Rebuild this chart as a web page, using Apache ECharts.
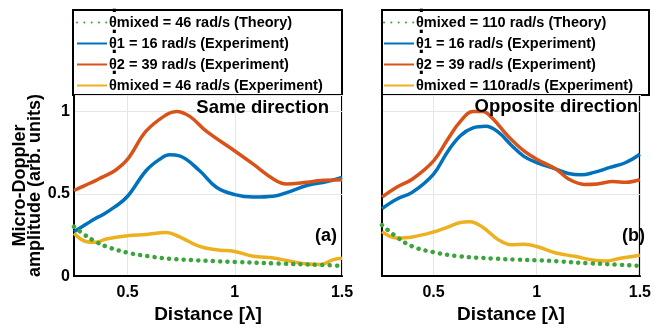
<!DOCTYPE html>
<html><head><meta charset="utf-8">
<script src="https://cdn.jsdelivr.net/npm/echarts@6/dist/echarts.min.js"></script>
<style>html,body{margin:0;padding:0;background:#fff}#c{width:654px;height:329px}</style>
</head><body><div id="c"></div>
<script>
// Panel (a): Same direction
const aTheory = [[0.25,0.30],[0.3,0.25],[0.35,0.21],[0.4,0.18],[0.5,0.142],[0.6,0.12],[0.7,0.105],[0.8,0.097],[0.9,0.091],[1.0,0.086],[1.2,0.076],[1.4,0.068],[1.5,0.062]];
const aTheta1 = [[0.25,0.27],[0.3,0.31],[0.35,0.35],[0.38,0.37],[0.44,0.42],[0.5,0.485],[0.586,0.64],[0.65,0.71],[0.695,0.737],[0.742,0.73],[0.836,0.64],[0.914,0.54],[1.0,0.495],[1.086,0.48],[1.18,0.485],[1.26,0.515],[1.336,0.55],[1.43,0.574],[1.5,0.60]];
const aTheta2 = [[0.25,0.52],[0.3,0.55],[0.35,0.58],[0.38,0.60],[0.44,0.64],[0.5,0.71],[0.586,0.88],[0.68,0.98],[0.727,1.0],[0.79,0.97],[0.867,0.88],[1.0,0.76],[1.086,0.68],[1.18,0.59],[1.24,0.56],[1.336,0.57],[1.4,0.58],[1.5,0.585]];
const aMixed = [[0.25,0.26],[0.305,0.21],[0.35,0.205],[0.4,0.225],[0.5,0.245],[0.586,0.253],[0.68,0.265],[0.74,0.24],[0.836,0.18],[0.914,0.16],[1.0,0.15],[1.086,0.12],[1.18,0.11],[1.26,0.09],[1.336,0.073],[1.4,0.07],[1.46,0.10],[1.5,0.108]];
// Panel (b): Opposite direction
const bTheory = [[0.25,0.31],[0.321,0.238],[0.398,0.18],[0.5,0.145],[0.63,0.12],[0.784,0.107],[0.9,0.1],[1.0,0.096],[1.1,0.09],[1.247,0.078],[1.35,0.072],[1.5,0.062]];
const bTheta1 = [[0.25,0.41],[0.321,0.467],[0.398,0.51],[0.5,0.62],[0.568,0.756],[0.63,0.853],[0.691,0.90],[0.753,0.91],[0.815,0.873],[0.877,0.795],[0.938,0.727],[1.0,0.69],[1.093,0.65],[1.154,0.623],[1.216,0.615],[1.278,0.63],[1.355,0.66],[1.432,0.69],[1.5,0.74]];
const bTheta2 = [[0.25,0.48],[0.321,0.54],[0.398,0.59],[0.5,0.70],[0.568,0.83],[0.63,0.94],[0.691,1.0],[0.738,1.0],[0.784,0.96],[0.861,0.85],[0.938,0.76],[1.0,0.71],[1.093,0.65],[1.154,0.59],[1.231,0.557],[1.293,0.56],[1.37,0.574],[1.432,0.57],[1.5,0.585]];
const bMixed = [[0.25,0.27],[0.321,0.232],[0.398,0.238],[0.5,0.268],[0.568,0.297],[0.63,0.326],[0.676,0.33],[0.738,0.297],[0.815,0.22],[0.877,0.19],[0.938,0.193],[1.0,0.18],[1.093,0.14],[1.185,0.12],[1.278,0.096],[1.34,0.092],[1.40,0.107],[1.5,0.127]];

const xTicks = [0.5, 1, 1.5];
const namesA = ['θmixed = 46 rad/s (Theory)','θ1 = 16 rad/s (Experiment)','θ2 = 39 rad/s (Experiment)','θmixed = 46 rad/s (Experiment)'];
const namesB = ['θmixed = 110 rad/s (Theory)','θ1 = 16 rad/s (Experiment) ','θ2 = 39 rad/s (Experiment) ','θmixed = 110rad/s (Experiment)'];
const titles = ['Same direction','Opposite direction'];
const tags = ['(a)','(b)'];

const FONT = 'Liberation Sans, Arial, sans-serif';
const colors = {theory:'#3BA53B', t1:'#0072BD', t2:'#D95319', mixed:'#EDB120'};
const grids = [{left:74,top:95,width:268,height:187},{left:382,top:95,width:266,height:187}];

function xAxis(i){
  return {gridIndex:i,type:'value',min:0.25,max:1.5,
    axisLine:{show:true,lineStyle:{color:'#000',width:2}},
    axisTick:{show:false,customValues:xTicks},
    axisLabel:{customValues:xTicks,color:'#000',fontSize:16,fontWeight:'bold',fontFamily:FONT,margin:8},
    splitLine:{show:true,lineStyle:{color:'#e6e6e6',width:1}},
    name:'Distance [λ]',nameLocation:'middle',nameGap:27,
    nameTextStyle:{color:'#000',fontSize:19,fontWeight:'bold',fontFamily:FONT}};
}
function yAxis(i){
  const o = {gridIndex:i,type:'value',min:0,max:1.1,interval:0.5,
    axisLine:{show:true,lineStyle:{color:'#000',width:2}},
    axisTick:{show:false},
    axisLabel:{show:i===0,showMaxLabel:false,color:'#000',fontSize:16,fontWeight:'bold',fontFamily:FONT,margin:4,
      formatter:v=>String(v)},
    splitLine:{show:true,lineStyle:{color:'#e6e6e6',width:1}}};
  if(i===0){
    o.name='Micro-Doppler\namplitude (arb. units)';
    o.nameLocation='middle';o.nameGap=27;
    o.nameTextStyle={color:'#000',fontSize:18,fontWeight:'bold',fontFamily:FONT,lineHeight:15};
  }
  return o;
}
function line(name,data,i,color,dotted,z){
  return {type:'line',name:name,data:data,xAxisIndex:i,yAxisIndex:i,smooth:0.4,symbol:'none',z:z,
    lineStyle:dotted?{color:color,width:4.5,type:[0.1,7.2],cap:'round'}:{color:color,width:3.5},
    itemStyle:{color:color}};
}
const series = [
  line(namesA[0],aTheory,0,colors.theory,true,5),
  line(namesA[1],aTheta1,0,colors.t1,false,3),
  line(namesA[2],aTheta2,0,colors.t2,false,3),
  line(namesA[3],aMixed,0,colors.mixed,false,3),
  line(namesB[0],bTheory,1,colors.theory,true,5),
  line(namesB[1],bTheta1,1,colors.t1,false,3),
  line(namesB[2],bTheta2,1,colors.t2,false,3),
  line(namesB[3],bMixed,1,colors.mixed,false,3)
];
function legend(names,left){
  return {data:names,orient:'vertical',left:left,top:15,padding:0,itemWidth:30,itemHeight:14,itemGap:6,
    selectedMode:false,itemStyle:{opacity:0},
    textStyle:{color:'#000',fontSize:14.5,fontWeight:'bold',fontFamily:FONT,padding:[0,0,0,-3]}};
}
// dot accents above each theta in the legends
const dotMarks = [];
[115, 422].forEach(x=>{
  [14, 34.5, 55, 75.5].forEach(yc=>{
    dotMarks.push({type:'text',x:x,y:yc-2,style:{text:'·',fill:'#000',font:'bold 22px '+FONT,align:'center',verticalAlign:'middle'},z:20});
  });
});
const chart = echarts.init(document.getElementById('c'),null,{renderer:'canvas'});
chart.setOption({
  animation:false,backgroundColor:'#fff',
  grid:grids.map(g=>Object.assign({show:true,borderColor:'#000',borderWidth:2,backgroundColor:'transparent'},g)),
  xAxis:[xAxis(0),xAxis(1)],
  yAxis:[yAxis(0),yAxis(1)],
  legend:[legend(namesA,76),legend(namesB,383)],
  series:series,
  graphic:[
    {type:'rect',shape:{x:73,y:10,width:269,height:85},style:{fill:'none',stroke:'#000',lineWidth:2},z:0},
    {type:'rect',shape:{x:382,y:10,width:267,height:85},style:{fill:'none',stroke:'#000',lineWidth:2},z:0},
    {type:'text',right:654-329,top:98,style:{text:titles[0],fill:'#000',font:'bold 18.5px '+FONT},z:10},
    {type:'text',right:654-638,top:97,style:{text:titles[1],fill:'#000',font:'bold 18.5px '+FONT},z:10},
    {type:'text',right:654-337,top:227,style:{text:tags[0],fill:'#000',font:'bold 18px '+FONT},z:10},
    {type:'text',right:654-645,top:227,style:{text:tags[1],fill:'#000',font:'bold 18px '+FONT},z:10}
  ].concat(dotMarks)
});
</script></body></html>
